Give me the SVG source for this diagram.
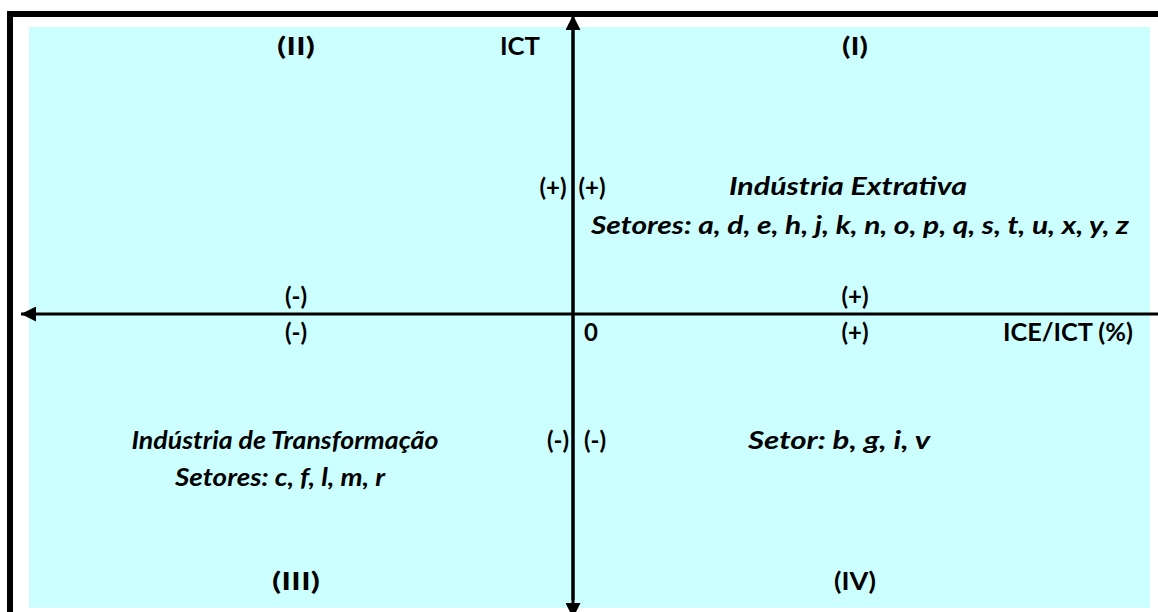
<svg xmlns="http://www.w3.org/2000/svg" width="1158" height="612" viewBox="0 0 1158 612">
<defs>
<style>
text{font-family:Lato,"Open Sans","Liberation Sans",sans-serif;font-weight:bold;font-size:24px;fill:#000;text-anchor:middle}
.i{font-style:italic}
</style>
<marker id="ah" viewBox="0 0 10 10" refX="10" refY="5" markerWidth="5" markerHeight="5" markerUnits="strokeWidth" orient="auto">
<path d="M0,0 L10,5 L0,10 z" fill="#000"/>
</marker>
</defs>
<rect x="0" y="0" width="1158" height="612" fill="#fff"/>
<g id="frame">
<path d="M10,620 L10,14 L1170,14" fill="none" stroke="#000" stroke-width="6"/>
<rect x="29" y="27" width="1121" height="581" fill="#ccffff"/>
</g>
<g id="connectors">
<line x1="573" y1="600" x2="573" y2="15" stroke="#000" stroke-width="3" marker-end="url(#ah)"/>
<line x1="573" y1="30" x2="573" y2="618" stroke="#000" stroke-width="3" marker-end="url(#ah)"/>
<line x1="1158" y1="314" x2="21" y2="314" stroke="#000" stroke-width="3" marker-end="url(#ah)"/>
</g>
<g id="quadrants">
<text x="296" y="55" textLength="38" lengthAdjust="spacingAndGlyphs">(II)</text>
<text x="520" y="55" textLength="40" lengthAdjust="spacingAndGlyphs">ICT</text>
<text x="855" y="55" textLength="26" lengthAdjust="spacingAndGlyphs">(I)</text>
<text x="296" y="590" textLength="48" lengthAdjust="spacingAndGlyphs">(III)</text>
<text x="855" y="590" textLength="42" lengthAdjust="spacingAndGlyphs">(IV)</text>
</g>
<g id="signs">
<text x="553" y="196">(+)</text>
<text x="592" y="196">(+)</text>
<text x="296" y="305">(-)</text>
<text x="855" y="305">(+)</text>
<text x="296" y="341">(-)</text>
<text x="591" y="341">0</text>
<text x="855" y="341">(+)</text>
<text x="1068" y="341" textLength="130" lengthAdjust="spacingAndGlyphs">ICE/ICT (%)</text>
<text x="558" y="449">(-)</text>
<text x="595" y="449">(-)</text>
</g>
<g id="q1">
<text class="i" x="848" y="195" textLength="238" lengthAdjust="spacingAndGlyphs">Indústria Extrativa</text>
<text class="i" x="860" y="234" textLength="538" lengthAdjust="spacingAndGlyphs">Setores: a, d, e, h, j, k, n, o, p, q, s, t, u, x, y, z</text>
</g>
<g id="q3">
<text class="i" x="285" y="449" textLength="307" lengthAdjust="spacingAndGlyphs">Indústria de Transformação</text>
<text class="i" x="280" y="486" textLength="210" lengthAdjust="spacingAndGlyphs">Setores: c, f, l, m, r</text>
</g>
<g id="q4">
<text class="i" x="839" y="449" textLength="182" lengthAdjust="spacingAndGlyphs">Setor: b, g, i, v</text>
</g>
</svg>
